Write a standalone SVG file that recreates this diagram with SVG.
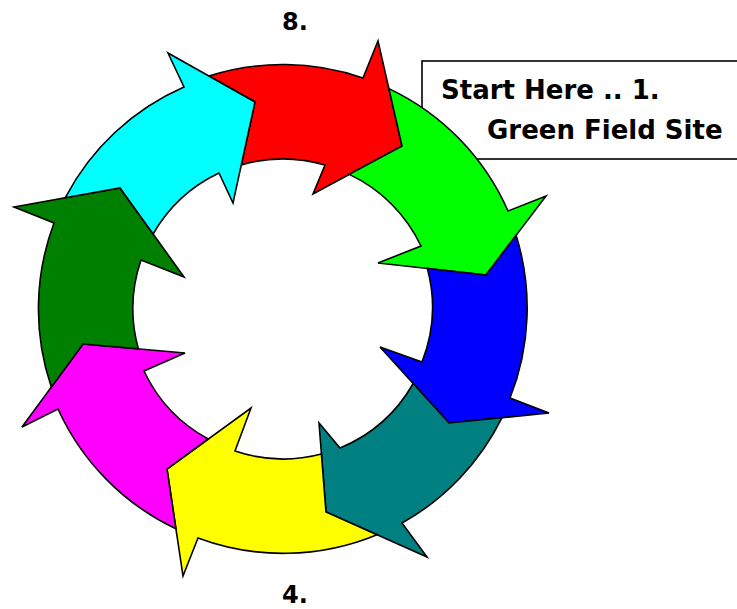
<svg xmlns="http://www.w3.org/2000/svg" width="737" height="609" viewBox="0 0 737 609">
<style>
.arr{stroke:#000;stroke-width:1.6;stroke-linejoin:miter}
.lbl{font-family:"DejaVu Sans","Verdana",sans-serif;font-weight:bold;fill:#000}
.box{fill:#fff;stroke:#000;stroke-width:1.6}
</style>
<rect width="737" height="609" fill="#fff"/>
<g id="start-note">
<rect class="box" x="422" y="61" width="330" height="98"/>
<text class="lbl" x="441" y="99" font-size="26">Start Here .. 1.</text>
<text class="lbl" x="487" y="139" font-size="26">Green Field Site</text>
</g>
<g id="arrow-red"><path class="arr" fill="#FF0000" d="M208.9 76 A244.5 244.5 0 0 1 363 78 L378 41 L402 146 L313 194 L325 165 A150 150 0 0 0 241.3 164.9 L255 102 Z"/></g>
<g id="arrow-green"><path class="arr" fill="#00FF00" d="M388.9 88.6 A244.5 244.5 0 0 1 508 211 L546 196 L486 275 L378 263 L421 246 A150 150 0 0 0 349.3 174.4 L402 146 Z"/></g>
<g id="arrow-blue"><path class="arr" fill="#0000FF" d="M516.1 235.3 A244.5 244.5 0 0 1 510 398 L549 413 L449 423 L380 347 L422 362 A150 150 0 0 0 427.4 268.5 L486 275 Z"/></g>
<g id="arrow-teal"><path class="arr" fill="#008080" d="M502 417.7 A244.5 244.5 0 0 1 402 523 L427 557 L326 512 L319 423 L340 448 A150 150 0 0 0 413.2 383.5 L449 423 Z"/></g>
<g id="arrow-yellow"><path class="arr" fill="#FFFF00" d="M377 534.7 A244.5 244.5 0 0 1 198 538 L183 576 L167 469 L251 408 L235 451 A150 150 0 0 0 321.4 454 L326 512 Z"/></g>
<g id="arrow-magenta"><path class="arr" fill="#FF00FF" d="M175.9 528.8 A244.5 244.5 0 0 1 58 409 L22 427 L83 344 L185 353 L144 371 A150 150 0 0 0 208.2 439 L167 469 Z"/></g>
<g id="arrow-darkgreen"><path class="arr" fill="#008000" d="M51.3 387.1 A244.5 244.5 0 0 1 54 223 L14 207 L120 188 L184 277 L141 260 A150 150 0 0 0 138.4 348.9 L83 344 Z"/></g>
<g id="arrow-cyan"><path class="arr" fill="#00FFFF" d="M65.2 197.8 A244.5 244.5 0 0 1 184 87 L168 53 L255 102 L233 203 L219 173 A150 150 0 0 0 153.1 234 L120 188 Z"/></g>
<g id="label-8"><text class="lbl" x="282" y="30" font-size="24">8.</text></g>
<g id="label-4"><text class="lbl" x="282" y="603" font-size="24">4.</text></g>
</svg>
